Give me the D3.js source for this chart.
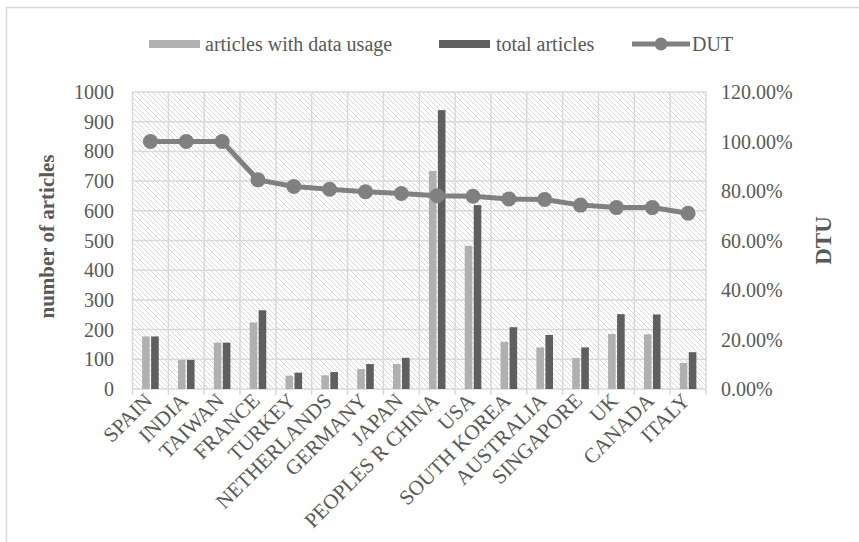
<!DOCTYPE html>
<html><head><meta charset="utf-8">
<script src="https://cdn.jsdelivr.net/npm/d3@7"></script>
<style>body{margin:0;background:#fff}svg{display:block}</style>
</head><body>
<svg id="c" width="859" height="542"></svg>
<script>
const categories = ["SPAIN","INDIA","TAIWAN","FRANCE","TURKEY","NETHERLANDS","GERMANY","JAPAN","PEOPLES R CHINA","USA","SOUTH KOREA","AUSTRALIA","SINGAPORE","UK","CANADA","ITALY"];
const withData = [177,98,156,224,45,46,67,84,734,482,159,140,104,185,184,88];
const totalArticles = [177,98,156,265,55,57,84,105,939,619,208,182,140,252,251,124];
const dut = [1.00,1.00,1.00,0.845,0.818,0.807,0.797,0.79,0.781,0.779,0.768,0.766,0.743,0.733,0.733,0.71];
const leftTicks = [0,100,200,300,400,500,600,700,800,900,1000];
const rightTicks = [0,0.2,0.4,0.6,0.8,1.0,1.2];
const seriesNames = ["articles with data usage","total articles","DUT"];

const svg = d3.select("#c");
const L = 132.5, R = 706, T = 92, B = 389;
const x = d3.scaleBand().domain(categories).range([L, R]);
const y = d3.scaleLinear().domain([0, 1000]).range([B, T]);
const y2 = d3.scaleLinear().domain([0, 1.2]).range([B, T]);
const txt = "#595959", grid = "#d9d9d9";
const font = "'Liberation Serif','Times New Roman',serif";

// outer border
svg.append("rect").attr("x",6.5).attr("y",7.5).attr("width",900).attr("height",600)
  .attr("fill","none").attr("stroke",grid).attr("stroke-width",1.5);

// hatch pattern
const defs = svg.append("defs");
const pat = defs.append("pattern").attr("id","hatch").attr("patternUnits","userSpaceOnUse")
  .attr("width",5).attr("height",5);
pat.append("rect").attr("width",5).attr("height",5).attr("fill","#fff");
pat.append("path").attr("d","M-1,-1 L6,6 M-1,4 L1,6 M4,-1 L6,1").attr("stroke","#d9d9d9").attr("stroke-width",1);
svg.append("rect").attr("x",L).attr("y",T).attr("width",R-L).attr("height",B-T).attr("fill","url(#hatch)");

// gridlines
svg.append("g").selectAll("line").data(leftTicks).join("line")
  .attr("x1",L).attr("x2",R).attr("y1",d=>y(d)).attr("y2",d=>y(d))
  .attr("stroke",grid).attr("stroke-width",1.5);
const bounds = categories.map(c=>x(c)).concat([R]);
svg.append("g").selectAll("line").data(bounds).join("line")
  .attr("x1",d=>d).attr("x2",d=>d).attr("y1",T).attr("y2",B+6)
  .attr("stroke",grid).attr("stroke-width",1.5);

// bars
const bw = 7.6;
const cx = c => x(c) + x.bandwidth()/2;
svg.append("g").selectAll("rect").data(categories).join("rect")
  .attr("x",c=>cx(c)-bw-0.7).attr("width",bw)
  .attr("y",(c,i)=>y(withData[i])).attr("height",(c,i)=>B-y(withData[i]))
  .attr("fill","#b0b0b0");
svg.append("g").selectAll("rect").data(categories).join("rect")
  .attr("x",c=>cx(c)+0.7).attr("width",bw)
  .attr("y",(c,i)=>y(totalArticles[i])).attr("height",(c,i)=>B-y(totalArticles[i]))
  .attr("fill","#5f5f5f");

// line
const line = d3.line().x((d,i)=>cx(categories[i])).y(d=>y2(d));
svg.append("path").datum(dut).attr("d",line).attr("fill","none")
  .attr("stroke","#808080").attr("stroke-width",5).attr("stroke-linejoin","round");
svg.append("g").selectAll("circle").data(dut).join("circle")
  .attr("cx",(d,i)=>cx(categories[i])).attr("cy",d=>y2(d)).attr("r",7.5).attr("fill","#808080");

// left axis labels
svg.append("g").selectAll("text").data(leftTicks).join("text")
  .attr("x",114).attr("y",d=>y(d)).attr("dy","0.35em").attr("text-anchor","end")
  .attr("font-family",font).attr("font-size",20).attr("fill",txt).text(d=>d);
// right axis labels
svg.append("g").selectAll("text").data(rightTicks).join("text")
  .attr("x",721).attr("y",d=>y2(d)).attr("dy","0.35em").attr("text-anchor","start")
  .attr("font-family",font).attr("font-size",20).attr("fill",txt).text(d=>d3.format(".2%")(d));

// x labels
svg.append("g").selectAll("text").data(categories).join("text")
  .attr("transform",c=>`translate(${cx(c)+3},${B+13}) rotate(-45)`)
  .attr("text-anchor","end").attr("font-family",font).attr("font-size",21).attr("fill",txt).text(c=>c);

// axis titles
svg.append("text").attr("transform",`translate(47,${(T+B)/2 - 4}) rotate(-90)`)
  .attr("text-anchor","middle").attr("dy","0.35em").attr("font-family",font).attr("font-weight","bold")
  .attr("font-size",21).attr("fill",txt).text("number of articles");
svg.append("text").attr("transform",`translate(823,${(T+B)/2}) rotate(-90)`)
  .attr("text-anchor","middle").attr("dy","0.35em").attr("font-family",font).attr("font-weight","bold")
  .attr("font-size",23).attr("fill",txt).text("DTU");

// legend
const ly = 44;
const lg = svg.append("g").attr("font-family",font).attr("font-size",20).attr("fill",txt);
lg.append("rect").attr("x",149).attr("y",ly-4).attr("width",51).attr("height",8).attr("fill","#b0b0b0");
lg.append("text").attr("x",205).attr("y",ly).attr("dy","0.35em").text(seriesNames[0]);
lg.append("rect").attr("x",439).attr("y",ly-4).attr("width",51).attr("height",8).attr("fill","#5f5f5f");
lg.append("text").attr("x",496).attr("y",ly).attr("dy","0.35em").text(seriesNames[1]);
lg.append("line").attr("x1",632).attr("x2",690).attr("y1",ly).attr("y2",ly).attr("stroke","#808080").attr("stroke-width",5);
lg.append("circle").attr("cx",661).attr("cy",ly).attr("r",6.5).attr("fill","#808080");
lg.append("text").attr("x",692).attr("y",ly).attr("dy","0.35em").text(seriesNames[2]);
</script>
</body></html>
